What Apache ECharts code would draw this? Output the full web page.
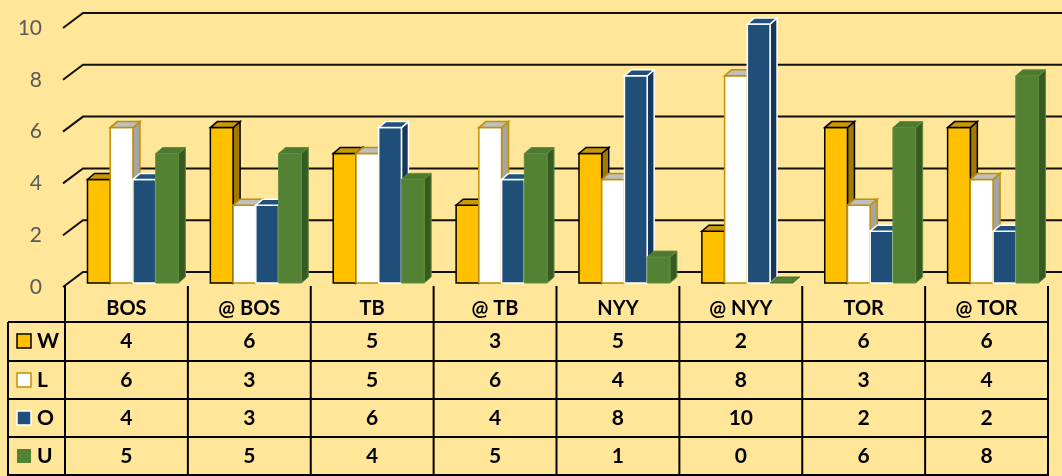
<!DOCTYPE html>
<html><head><meta charset="utf-8">
<script src="https://cdn.jsdelivr.net/npm/echarts@6/dist/echarts.min.js"></script>
<style>html,body{margin:0;padding:0;background:#FFE699}#c{width:1062px;height:476px}</style>
</head><body><div id="c"></div>
<script>
const categories = ['BOS','@ BOS','TB','@ TB','NYY','@ NYY','TOR','@ TOR'];
const seriesNames = ['W','L','O','U'];
const wValues = [4,6,5,3,5,2,6,6];
const lValues = [6,3,5,6,4,8,3,4];
const oValues = [4,3,6,4,8,10,2,2];
const uValues = [5,5,4,5,1,0,6,8];
const yTicks = [0,2,4,6,8,10];

const allValues = [wValues, lValues, oValues, uValues];
const styles = [
  {front:'#FFC000', top:'#C99A00', side:'#A27A00', stroke:'#000000', lw:1.5, mStroke:'#000000'},
  {front:'#FFFFFF', top:'#BFBFBF', side:'#A5A5A5', stroke:'#BF9000', lw:1.5, mStroke:'#BF9000'},
  {front:'#1F4E79', top:'#21507C', side:'#16385A', stroke:'#FFFFFF', lw:1.5, mStroke:'#FFFFFF'},
  {front:'#548235', top:'#4C7A30', side:'#375A22', stroke:'#5E8E3C', lw:1, mStroke:null}
];
const DX = 7, DY = -6;
const FONT = 'Lato, "Liberation Sans", sans-serif';

function barRender(j){
  const s = styles[j];
  return function(params, api){
    const ci = api.value(0), v = api.value(1);
    const c = api.coord([ci, v]);
    const c0 = api.coord([ci, 0]);
    const bw = api.size([1, 0])[0];
    const w = bw * 0.185;
    const x = c[0] - bw/2 + bw*0.183 + j*w;
    const yT = c[1] - 4, yB = c0[1] - 4;
    const ch = [];
    if (v > 0) {
      ch.push({type:'polygon', shape:{points:[[x+w,yT],[x+w+DX,yT+DY],[x+w+DX,yB+DY],[x+w,yB]]},
        style:{fill:s.side, stroke:s.stroke, lineWidth:s.lw}});
      ch.push({type:'rect', shape:{x:x, y:yT, width:w, height:yB-yT},
        style:{fill:s.front, stroke:s.stroke, lineWidth:s.lw}});
    }
    ch.push({type:'polygon', shape:{points:[[x,yT],[x+w,yT],[x+w+DX,yT+DY],[x+DX,yT+DY]]},
      style:{fill: v > 0 ? s.top : s.front, stroke: v > 0 ? s.stroke : s.side, lineWidth: v>0 ? s.lw : 0.8}});
    return {type:'group', children:ch};
  };
}

function gridRender(params, api){
  const v = api.value(1);
  const y = api.coord([0, v])[1];
  const left = params.coordSys.x;
  return {type:'polyline', shape:{points:[[left-2,y],[left+18,y-15],[1070,y-15]]},
    style:{stroke:'#111111', lineWidth:2, fill:null}};
}

const rowY = [341, 380, 418, 456];
const lineY = [322, 361, 399, 437, 475];
function tableRender(params, api){
  const i = api.value(0);
  const cx = api.coord([i, 0])[0];
  const bw = api.size([1, 0])[0];
  const ch = [];
  const xl = cx - bw/2;
  ch.push({type:'line', shape:{x1:xl, y1:286, x2:xl, y2:476}, style:{stroke:'#000', lineWidth:2}});
  if (i === categories.length - 1) {
    ch.push({type:'line', shape:{x1:xl+bw, y1:286, x2:xl+bw, y2:476}, style:{stroke:'#000', lineWidth:2}});
  }
  ch.push({type:'text', style:{x:cx, y:309, text:categories[i], fill:'#000', font:'bold 20px '+FONT, align:'center', verticalAlign:'middle'}});
  for (let r = 0; r < 4; r++) {
    ch.push({type:'text', style:{x:cx, y:rowY[r], text:String(allValues[r][i]), fill:'#000', font:'bold 21px '+FONT, align:'center', verticalAlign:'middle'}});
  }
  if (i === 0) {
    const right = params.coordSys.x + params.coordSys.width;
    ch.push({type:'line', shape:{x1:8, y1:322, x2:8, y2:476}, style:{stroke:'#000', lineWidth:2}});
    lineY.forEach(y => ch.push({type:'line', shape:{x1:8, y1:y, x2:right, y2:y}, style:{stroke:'#000', lineWidth:2}}));
    for (let r = 0; r < 4; r++) {
      const s = styles[r];
      ch.push({type:'rect', shape:{x:17, y:rowY[r]-7, width:14, height:14},
        style:{fill:s.front, stroke:s.mStroke, lineWidth:s.mStroke ? 1.5 : 0}});
      ch.push({type:'text', style:{x:37, y:rowY[r], text:seriesNames[r], fill:'#000', font:'bold 21px '+FONT, align:'left', verticalAlign:'middle'}});
    }
  }
  return {type:'group', children:ch};
}

const chart = echarts.init(document.getElementById('c'), null, {renderer:'canvas'});
const series = [
  {type:'custom', name:'grid', z:1, silent:true, renderItem:gridRender, data:yTicks.map(v=>[0,v])}
];
allValues.forEach((vals, j) => {
  series.push({type:'custom', name:seriesNames[j], z:2+j, renderItem:barRender(j), data:vals.map((v,i)=>[i,v])});
});
series.push({type:'custom', name:'table', z:10, silent:true, renderItem:tableRender, data:categories.map((c,i)=>[i,0])});

chart.setOption({
  animation:false,
  backgroundColor:'#FFE699',
  grid:{left:65, right:14, top:28, bottom:189},
  xAxis:{type:'category', data:categories, axisLine:{show:false}, axisTick:{show:false}, axisLabel:{show:false}, splitLine:{show:false}},
  yAxis:{type:'value', min:0, max:10, interval:2, axisLine:{show:false}, axisTick:{show:false}, splitLine:{show:false},
    axisLabel:{color:'#595959', fontSize:21, fontFamily:FONT, margin:23}},
  series:series
});
</script></body></html>
